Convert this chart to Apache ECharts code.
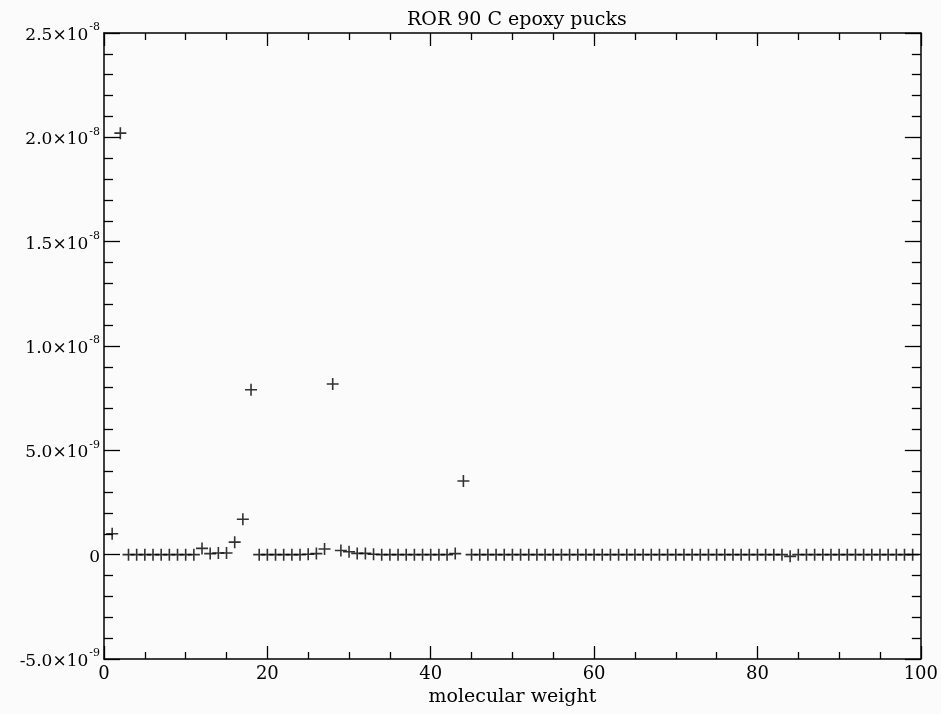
<!DOCTYPE html>
<html>
<head>
<meta charset="utf-8">
<script src="https://cdn.jsdelivr.net/npm/echarts@6/dist/echarts.min.js"></script>
<style>
html,body{margin:0;padding:0;background:#fbfbfb;}
#chart{width:941px;height:714px;}
</style>
</head>
<body>
<div id="chart"></div>
<script>
// molecular weight (x) and signal in units of 1e-9 (y)
var masses = [];
for (var m = 1; m <= 99; m++) masses.push(m);
var signal_e9 = [
  1.0, 20.2, 0, 0, 0, 0, 0, 0, 0, 0,          // 1-10
  0, 0.3, 0.05, 0.08, 0.08, 0.6, 1.7, 7.9, 0, 0, // 11-20
  0, 0, 0, 0, 0.02, 0.05, 0.27, 8.18, 0.2, 0.14, // 21-30
  0.06, 0.06, 0.02, 0, 0, 0, 0, 0, 0, 0,       // 31-40
  0, 0, 0.05, 3.53, 0, 0, 0, 0, 0, 0,          // 41-50
  0, 0, 0, 0, 0, 0, 0, 0, 0, 0,                // 51-60
  0, 0, 0, 0, 0, 0, 0, 0, 0, 0,                // 61-70
  0, 0, 0, 0, 0, 0, 0, 0, 0, 0,                // 71-80
  0, 0, 0, -0.08, 0, 0, 0, 0, 0, 0,            // 81-90
  0, 0, 0, 0, 0, 0, 0, 0, 0                    // 91-99
];
var yTickLabels = {
  '-5': ['-5.0', '-9'], '0': ['0', null], '5': ['5.0', '-9'],
  '10': ['1.0', '-8'], '15': ['1.5', '-8'], '20': ['2.0', '-8'], '25': ['2.5', '-8']
};
var titleText = 'ROR 90 C epoxy pucks';
var xName = 'molecular weight';

var points = masses.map(function (x, i) { return [x, signal_e9[i]]; });
var serif = '"DejaVu Serif", "Liberation Serif", serif';
var ink = '#000';

function yFmt(v) {
  var k = String(Math.round(v));
  var t = yTickLabels[k];
  if (!t) return '';
  if (!t[1]) return '{b|' + t[0] + '}';
  return '{b|' + t[0] + '×10}{s|' + t[1] + '}';
}

var tickCommon = function (len, minorLen, split) {
  return {
    axisLine: { show: true, onZero: false, lineStyle: { color: ink, width: 1.5 } },
    axisTick: { show: true, inside: true, length: len, lineStyle: { color: ink, width: 1.3 } },
    minorTick: { show: true, splitNumber: split, length: minorLen, lineStyle: { color: ink, width: 1.3 } },
    splitLine: { show: false },
    minorSplitLine: { show: false }
  };
};

var xBottom = Object.assign({
  type: 'value', gridIndex: 0, position: 'bottom', min: 0, max: 100, interval: 20,
  name: xName, nameLocation: 'middle', nameGap: 28,
  nameTextStyle: { fontFamily: serif, fontSize: 19, color: ink },
  axisLabel: { show: true, fontFamily: serif, fontSize: 18, color: ink, margin: 6 }
}, tickCommon(13, 7, 4));
var xTop = Object.assign({
  type: 'value', gridIndex: 0, position: 'top', min: 0, max: 100, interval: 20,
  axisLabel: { show: false }
}, tickCommon(13, 7, 4));
var yLeft = Object.assign({
  type: 'value', gridIndex: 0, position: 'left', min: -5, max: 25, interval: 5,
  axisLabel: {
    show: true, margin: 4, formatter: yFmt, color: ink,
    rich: {
      b: { fontFamily: serif, fontSize: 17, color: ink, lineHeight: 22, verticalAlign: 'bottom' },
      s: { fontFamily: serif, fontSize: 11, color: ink, lineHeight: 22, verticalAlign: 'top', padding: [0, 0, 0, 1] }
    }
  }
}, tickCommon(16, 9, 5));
var yRight = Object.assign({
  type: 'value', gridIndex: 0, position: 'right', min: -5, max: 25, interval: 5,
  axisLabel: { show: false }
}, tickCommon(16, 9, 5));

var chart = echarts.init(document.getElementById('chart'), null, { renderer: 'canvas' });
chart.setOption({
  backgroundColor: '#fbfbfb',
  animation: false,
  title: {
    text: titleText, left: 402, top: 6,
    textStyle: { fontFamily: serif, fontSize: 19, fontWeight: 'normal', color: ink }
  },
  grid: { left: 104, right: 19, top: 33, bottom: 55, containLabel: false },
  xAxis: [xBottom, xTop],
  yAxis: [yLeft, yRight],
  series: [{
    type: 'scatter', xAxisIndex: 0, yAxisIndex: 0,
    data: points,
    symbol: 'path://M0,5L10,5M5,0L5,10',
    symbolSize: 12,
    itemStyle: { color: 'none', borderColor: ink, borderWidth: 1.6 },
    emphasis: { disabled: true }
  }]
});
</script>
</body>
</html>
